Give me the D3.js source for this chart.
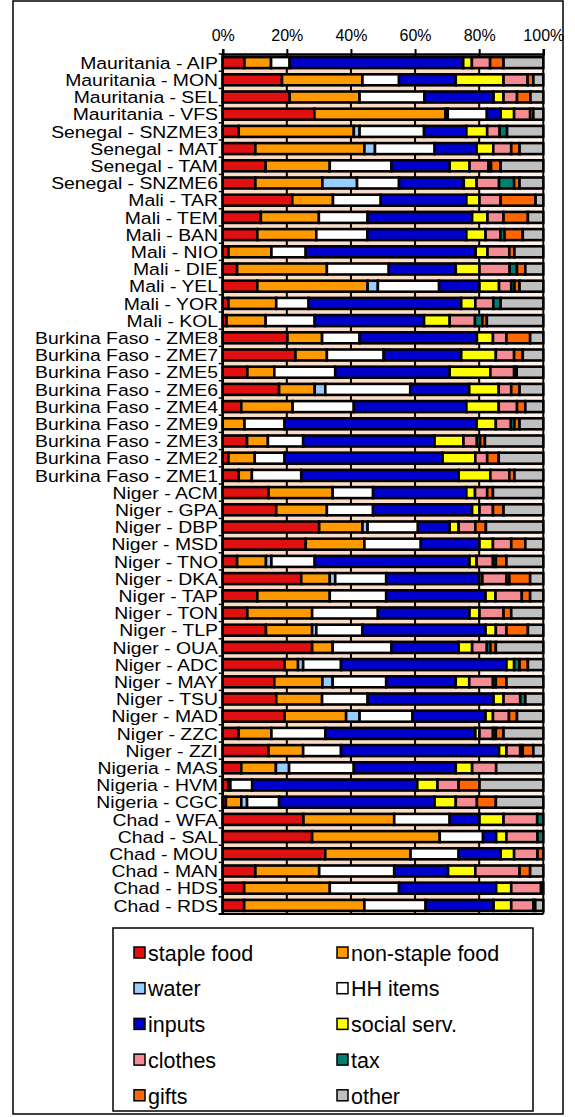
<!DOCTYPE html>
<html>
<head>
<meta charset="utf-8">
<script src="https://cdn.jsdelivr.net/npm/d3@7"></script>
<style>
  html, body { margin: 0; padding: 0; background: #ffffff; }
  svg { display: block; }
  text { font-family: "Liberation Sans", Arial, sans-serif; fill: #000; }
</style>
</head>
<body>
<svg id="chart" width="575" height="1117"></svg>
<script>
// Sites (one bar each), top to bottom
const categories = [
  "Mauritania - AIP", "Mauritania - MON", "Mauritania - SEL", "Mauritania - VFS",
  "Senegal - SNZME3", "Senegal - MAT", "Senegal - TAM", "Senegal - SNZME6",
  "Mali - TAR", "Mali - TEM", "Mali - BAN", "Mali - NIO", "Mali - DIE", "Mali - YEL", "Mali - YOR", "Mali - KOL",
  "Burkina Faso - ZME8", "Burkina Faso - ZME7", "Burkina Faso - ZME5", "Burkina Faso - ZME6", "Burkina Faso - ZME4",
  "Burkina Faso - ZME9", "Burkina Faso - ZME3", "Burkina Faso - ZME2", "Burkina Faso - ZME1",
  "Niger - ACM", "Niger - GPA", "Niger - DBP", "Niger - MSD", "Niger - TNO", "Niger - DKA", "Niger - TAP", "Niger - TON",
  "Niger - TLP", "Niger - OUA", "Niger - ADC", "Niger - MAY", "Niger - TSU", "Niger - MAD", "Niger - ZZC", "Niger - ZZI",
  "Nigeria - MAS", "Nigeria - HVM", "Nigeria - CGC",
  "Chad - WFA", "Chad - SAL", "Chad - MOU", "Chad - MAN", "Chad - HDS", "Chad - RDS"
];

// Expenditure shares (%) per category, in the same site order
const stapleFood = [6.8, 18.5, 20.9, 28.6, 5.0, 10.2, 13.4, 10.2, 21.7, 11.9, 10.8, 1.8, 4.5, 10.8, 1.8, 1.2, 20.2, 22.7, 7.7, 17.6, 5.8, 0, 7.6, 1.8, 5.0, 14.3, 16.7, 30.1, 25.9, 4.5, 24.5, 10.8, 7.7, 13.5, 27.9, 19.3, 16.1, 16.7, 19.3, 5.0, 14.3, 5.8, 1.8, 1.0, 25.2, 27.9, 32.0, 10.2, 6.7, 6.7];
const nonStapleFood = [8.3, 25.1, 21.8, 40.9, 35.9, 34.0, 20.0, 20.9, 12.7, 18.1, 18.4, 13.4, 28.0, 34.4, 14.9, 12.2, 10.8, 9.8, 8.4, 11.1, 16.0, 6.8, 6.5, 8.2, 4.1, 20.0, 15.8, 13.5, 18.3, 9.0, 8.9, 22.6, 20.2, 14.4, 6.4, 4.2, 15.0, 14.3, 19.2, 10.2, 10.8, 10.8, 0.6, 4.8, 28.3, 39.8, 26.6, 19.9, 26.7, 37.5];
const water = [0, 0, 0, 0.7, 1.8, 3.3, 0, 10.8, 0, 0, 0, 0, 0, 3.2, 0, 0, 0, 0, 0, 3.3, 0, 0, 0, 0, 0, 0, 0, 1.6, 0, 1.7, 1.7, 0, 0, 1.3, 0, 1.6, 3.2, 0, 4.2, 0, 0, 4.1, 0, 1.8, 0, 0, 0, 0, 0, 0];
const hhItems = [5.8, 11.4, 20.2, 12.2, 20.1, 18.6, 19.2, 13.1, 14.9, 15.2, 15.9, 10.7, 19.3, 19.1, 10.1, 15.3, 11.7, 17.7, 19.0, 26.5, 19.1, 12.5, 11.0, 9.3, 15.4, 12.6, 14.4, 15.7, 17.6, 13.5, 15.9, 17.6, 20.5, 14.4, 18.3, 11.8, 16.7, 14.2, 16.5, 16.8, 11.8, 20.2, 6.8, 10.0, 17.3, 13.5, 15.0, 23.4, 21.6, 19.1];
const inputs = [54.2, 17.7, 21.6, 4.3, 13.2, 13.1, 18.2, 20.2, 26.7, 32.6, 30.9, 53.0, 20.9, 12.6, 47.6, 34.1, 36.6, 24.2, 35.7, 18.4, 35.1, 59.9, 41.0, 49.3, 49.1, 29.1, 30.9, 9.9, 18.3, 48.3, 29.1, 31.0, 28.6, 38.4, 21.0, 51.6, 21.7, 39.3, 22.8, 46.8, 49.3, 31.8, 51.5, 48.5, 9.3, 4.1, 13.1, 16.8, 30.3, 21.2];
const socialServ = [2.7, 14.9, 3.1, 4.2, 6.5, 5.2, 6.2, 4.0, 4.1, 4.8, 6.0, 3.7, 7.4, 6.1, 4.4, 8.0, 5.0, 10.8, 12.7, 9.2, 10.1, 6.0, 9.0, 10.2, 9.9, 2.7, 2.3, 2.8, 4.2, 2.2, 0.9, 3.1, 3.1, 3.2, 4.2, 2.4, 4.2, 3.1, 2.3, 1.3, 2.3, 5.1, 6.3, 6.6, 7.5, 3.2, 4.2, 8.5, 4.7, 5.5];
const clothes = [5.7, 7.5, 4.2, 5.0, 3.9, 5.6, 5.9, 7.0, 6.6, 5.0, 4.6, 6.8, 9.4, 3.8, 5.6, 7.9, 4.2, 5.7, 7.4, 3.9, 5.7, 4.7, 4.2, 3.7, 5.9, 3.8, 4.2, 5.2, 5.7, 5.1, 7.5, 8.2, 7.5, 3.3, 4.6, 0, 7.4, 5.2, 5.0, 4.2, 4.3, 7.5, 6.6, 6.6, 10.5, 9.7, 7.3, 13.8, 9.3, 6.9];
const tax = [0, 0, 0, 0, 2.3, 0, 0.8, 4.7, 0, 0, 1.3, 0, 2.3, 1.0, 2.3, 2.3, 0, 0, 0.8, 0, 0, 1.1, 1.0, 0, 0, 0, 0, 0, 0, 0.9, 0.9, 0, 0, 0, 1.1, 1.7, 0.9, 1.6, 0, 0.9, 0.8, 0, 0, 0, 1.9, 1.8, 0, 0, 0.7, 0.6];
const gifts = [4.2, 1.8, 4.2, 1.0, 0, 2.6, 3.0, 1.7, 10.9, 7.6, 5.7, 1.6, 2.6, 1.6, 0, 1.4, 7.4, 2.7, 0, 2.6, 2.6, 1.6, 1.5, 3.6, 1.6, 1.8, 3.3, 3.3, 4.4, 3.3, 6.5, 2.6, 2.4, 6.7, 1.7, 2.6, 3.3, 0, 2.5, 2.4, 3.3, 0, 6.5, 5.9, 0, 0, 1.8, 3.3, 0, 0];
const other = [12.4, 3.1, 4.0, 3.1, 11.3, 7.4, 13.3, 7.4, 2.4, 4.8, 6.4, 9.0, 5.6, 7.4, 13.3, 17.6, 4.1, 6.4, 8.3, 7.4, 5.6, 7.4, 18.2, 13.9, 9.0, 15.7, 12.4, 17.9, 5.6, 11.5, 4.1, 4.1, 10.0, 4.8, 14.8, 4.8, 11.5, 5.6, 8.2, 12.4, 3.1, 14.7, 19.9, 14.8, 0, 0, 0, 4.1, 0, 2.5];

const seriesNames = ["staple food", "non-staple food", "water", "HH items", "inputs",
                     "social serv.", "clothes", "tax", "gifts", "other"];
const seriesValues = [stapleFood, nonStapleFood, water, hhItems, inputs,
                      socialServ, clothes, tax, gifts, other];
const seriesColors = ["#e01010", "#ff9900", "#99ccff", "#ffffff", "#0000cc",
                      "#ffff00", "#f58c94", "#007f70", "#ff6600", "#c0c0c0"];
const xTicks = [0, 0.2, 0.4, 0.6, 0.8, 1.0];

// Build row objects for the stack layout
const rows = categories.map((name, i) => {
  const r = { site: name };
  seriesNames.forEach((s, k) => { r[s] = seriesValues[k][i]; });
  return r;
});

const svg = d3.select("#chart");

// Outer frame
svg.append("rect")
  .attr("x", 13).attr("y", 1).attr("width", 550).attr("height", 1113)
  .attr("fill", "#fff").attr("stroke", "#000").attr("stroke-width", 1.5);

const plotTop = 54, plotBottom = 914;
const x = d3.scaleLinear().domain([0, 1]).range([222.7, 543.3]);
const y = d3.scaleBand().domain(categories).range([plotTop, plotBottom])
  .paddingInner(0.36).paddingOuter(0.18);

const stack = d3.stack().keys(seriesNames).offset(d3.stackOffsetExpand);
const layers = stack(rows);

// Plot area background strips between the bars
const bands = d3.pairs(xTicks);
svg.append("g").selectAll("rect").data(bands).join("rect")
  .attr("x", d => x(d[0])).attr("y", plotTop)
  .attr("width", d => x(d[1]) - x(d[0])).attr("height", plotBottom - plotTop)
  .attr("fill", (d, i) => i === bands.length - 1 ? "#fdf1ea" : "#fbdcc6");

// Vertical gridlines
svg.append("g").selectAll("line").data(xTicks).join("line")
  .attr("x1", d => x(d)).attr("x2", d => x(d))
  .attr("y1", plotTop).attr("y2", plotBottom)
  .attr("stroke", "#000").attr("stroke-width", 2);

// Stacked bars
svg.append("g").selectAll("g").data(layers).join("g")
  .attr("fill", (d, i) => seriesColors[i])
  .selectAll("rect").data(d => d.filter(p => p[1] - p[0] > 0)).join("rect")
  .attr("x", d => x(d[0]))
  .attr("y", d => y(d.data.site))
  .attr("width", d => x(d[1]) - x(d[0]))
  .attr("height", y.bandwidth())
  .attr("stroke", "#000")
  .attr("stroke-width", 2.6);

// Top axis
const xAxis = d3.axisTop(x).tickValues(xTicks).tickFormat(d3.format(".0%"))
  .tickSize(5).tickPadding(8);
const gx = svg.append("g").attr("transform", `translate(0,${plotTop})`).call(xAxis);
gx.select(".domain").attr("stroke-width", 2.5);
gx.selectAll(".tick line").attr("stroke-width", 2);
gx.selectAll("text").style("font-size", "16px").style("font-family", "'Liberation Sans', Arial, sans-serif");

// Left axis: line, ticks between bars, site labels
const step = y.step();
const boundaries = d3.range(categories.length + 1).map(i => plotTop + i * step);
svg.append("line")
  .attr("x1", x(0)).attr("x2", x(0)).attr("y1", plotTop).attr("y2", plotBottom)
  .attr("stroke", "#000").attr("stroke-width", 2.5);
svg.append("line")
  .attr("x1", x(0) - 4).attr("x2", x(1)).attr("y1", plotBottom).attr("y2", plotBottom)
  .attr("stroke", "#000").attr("stroke-width", 2);
svg.append("g").selectAll("line").data(boundaries).join("line")
  .attr("x1", x(0) - 4).attr("x2", x(0))
  .attr("y1", d => d).attr("y2", d => d)
  .attr("stroke", "#000").attr("stroke-width", 1.5);
// Site labels: compact height, slightly widened glyphs
svg.append("g").selectAll("text").data(categories).join("text")
  .attr("transform", d => `translate(218,${y(d) + y.bandwidth() / 2}) scale(1.14,1)`)
  .attr("dy", "0.36em")
  .attr("text-anchor", "end")
  .style("font-size", "17px")
  .text(d => d);

// Legend
const legend = svg.append("g");
legend.append("rect")
  .attr("x", 113).attr("y", 928).attr("width", 420).attr("height", 183)
  .attr("fill", "#fff").attr("stroke", "#000").attr("stroke-width", 1.5);
const item = legend.selectAll("g.item").data(seriesNames).join("g")
  .attr("class", "item")
  .attr("transform", (d, i) => `translate(${i % 2 === 0 ? 134 : 337},${953 + Math.floor(i / 2) * 35.7})`);
item.append("rect")
  .attr("x", 0).attr("y", -6).attr("width", 11).attr("height", 11)
  .attr("fill", (d, i) => seriesColors[i])
  .attr("stroke", "#000").attr("stroke-width", 1.5);
item.append("text")
  .attr("x", 14).attr("y", 0).attr("dy", "0.36em")
  .style("font-size", "21.5px")
  .text(d => d);
</script>
</body>
</html>
